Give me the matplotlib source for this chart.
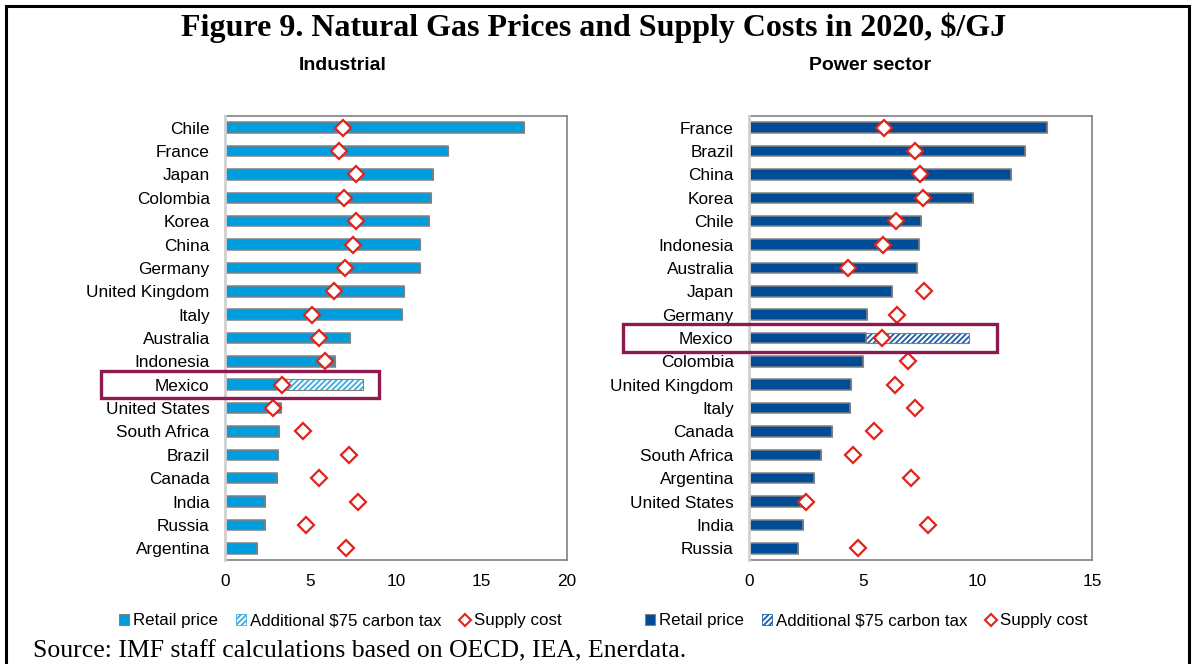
import matplotlib
matplotlib.use("Agg")
import matplotlib.pyplot as plt
from matplotlib.patches import Patch, Rectangle
from matplotlib.lines import Line2D
import matplotlib.transforms as mtransforms

# ---------------- Data ----------------
ind_countries = ["Chile", "France", "Japan", "Colombia", "Korea", "China", "Germany",
                 "United Kingdom", "Italy", "Australia", "Indonesia", "Mexico",
                 "United States", "South Africa", "Brazil", "Canada", "India",
                 "Russia", "Argentina"]
ind_retail = [17.5, 13.05, 12.15, 12.03, 11.95, 11.42, 11.42, 10.49, 10.35, 7.31,
              6.43, 3.5, 3.3, 3.16, 3.08, 3.02, 2.32, 2.32, 1.85]
ind_tax = [0, 0, 0, 0, 0, 0, 0, 0, 0, 0, 0, 4.57, 0, 0, 0, 0, 0, 0, 0]
ind_supply = [6.92, 6.69, 7.64, 6.98, 7.64, 7.5, 7.02, 6.37, 5.1, 5.48, 5.85, 3.33,
              2.8, 4.54, 7.23, 5.5, 7.78, 4.74, 7.1]

pow_countries = ["France", "Brazil", "China", "Korea", "Chile", "Indonesia", "Australia",
                 "Japan", "Germany", "Mexico", "Colombia", "United Kingdom", "Italy",
                 "Canada", "South Africa", "Argentina", "United States", "India", "Russia"]
pow_retail = [13.05, 12.07, 11.46, 9.81, 7.52, 7.45, 7.33, 6.27, 5.17, 5.1, 4.97,
              4.45, 4.4, 3.61, 3.15, 2.84, 2.36, 2.36, 2.14]
pow_tax = [0, 0, 0, 0, 0, 0, 0, 0, 0, 4.54, 0, 0, 0, 0, 0, 0, 0, 0, 0]
pow_supply = [5.92, 7.25, 7.49, 7.61, 6.44, 5.85, 4.32, 7.65, 6.46, 5.8, 6.95, 6.38,
              7.26, 5.45, 4.55, 7.08, 2.5, 7.83, 4.77]

ind_xticks = [0, 5, 10, 15, 20]
pow_xticks = [0, 5, 10, 15]

# ---------------- Style ----------------
W, H = 1195, 664
plt.rcParams['font.family'] = ['Liberation Sans', 'DejaVu Sans']
plt.rcParams['hatch.linewidth'] = 1.3

fig = plt.figure(figsize=(W / 100, H / 100), dpi=100)
fig.patch.set_facecolor('white')

# outer frame
fig.add_artist(Rectangle((6 / W, -0.05), (1189 - 6) / W, 1.05 - 6 / H,
                         transform=fig.transFigure, fill=False,
                         edgecolor='black', linewidth=2.2))

fig.text(594 / W, 1 - 28 / H, "Figure 9. Natural Gas Prices and Supply Costs in 2020, $/GJ",
         ha='center', va='center', fontsize=23, fontweight='bold',
         family=['Liberation Serif', 'DejaVu Serif'])
fig.text(33 / W, 1 - 651 / H, "Source: IMF staff calculations based on OECD, IEA, Enerdata.",
         ha='left', va='center', fontsize=18.5, family=['Liberation Serif', 'DejaVu Serif'])

GREY = '#808080'
RED = '#e2231a'
HL = '#8c1a50'


def panel(rect, countries, retail, tax, supply, xticks, xmax, color, hatchcol,
          title, title_x, hl_x, leg_x):
    ax = fig.add_axes(rect)
    ypos = list(range(len(countries)))
    ax.barh(ypos, retail, height=0.45, color=color, edgecolor=GREY, linewidth=1.1, zorder=2)
    # carbon tax hatched segment
    ax.barh(ypos, tax, left=retail, height=0.45, color='white', edgecolor=hatchcol,
            hatch='//////', linewidth=0, zorder=2)
    ax.barh(ypos, tax, left=retail, height=0.45, fill=False, edgecolor=GREY,
            linewidth=0.8, zorder=2)
    ax.plot(supply, ypos, linestyle='none', marker='D', markersize=8.5,
            markerfacecolor='white', markeredgecolor=RED, markeredgewidth=1.6, zorder=3)
    ax.set_xlim(0, xmax)
    ax.set_ylim(len(countries) - 0.5, -0.5)
    ax.set_yticks(ypos)
    ax.set_yticklabels(countries)
    ax.set_xticks(xticks)
    ax.tick_params(axis='both', length=0, labelsize=12.4, colors='black')
    ax.tick_params(axis='y', pad=11)
    ax.tick_params(axis='x', pad=10)
    for s in ['top', 'right', 'bottom']:
        ax.spines[s].set_color(GREY)
        ax.spines[s].set_linewidth(1.2)
    ax.spines['left'].set_color('#d0d0d0')
    ax.spines['left'].set_linewidth(2.0)
    ax.spines['left'].set_zorder(4)

    fig.text(title_x / W, 1 - 66 / H, title, ha='center', va='center',
             fontsize=14, fontweight='bold')

    # highlight box around Mexico
    mi = countries.index("Mexico")
    trans = mtransforms.blended_transform_factory(ax.transAxes, ax.transData)
    ax.add_patch(Rectangle((hl_x[0], mi + 0.58), hl_x[1] - hl_x[0], -1.16,
                           transform=trans, fill=False, edgecolor=HL,
                           linewidth=2.4, clip_on=False, zorder=5))

    handles = [Patch(facecolor=color, edgecolor=GREY, linewidth=0.8),
               Patch(facecolor='white', edgecolor=hatchcol, hatch='//////', linewidth=0.6),
               Line2D([], [], linestyle='none', marker='D', markersize=6.5,
                      markerfacecolor='white', markeredgecolor=RED, markeredgewidth=1.5)]
    labels = ["Retail price", "Additional $75 carbon tax", "Supply cost"]
    fig.legend(handles, labels, loc='center', bbox_to_anchor=(leg_x / W, 1 - 621 / H),
               ncol=3, frameon=False, fontsize=12.2, handlelength=0.6,
               handleheight=0.6, handletextpad=0.25, columnspacing=1.05,
               borderpad=0, borderaxespad=0)
    return ax


ax1 = panel([225 / W, 1 - 560 / H, (567 - 225) / W, 444 / H], ind_countries, ind_retail,
            ind_tax, ind_supply, ind_xticks, 20, '#009dde', '#3aaee0', "Industrial", 343,
            (-0.363, 0.450), 340)
ax2 = panel([749 / W, 1 - 560 / H, (1092 - 749) / W, 444 / H], pow_countries, pow_retail,
            pow_tax, pow_supply, pow_xticks, 15, '#004c97', '#1f5fa8', "Power sector", 870,
            (-0.367, 0.723), 866)

fig.savefig("out.png", dpi=100)
